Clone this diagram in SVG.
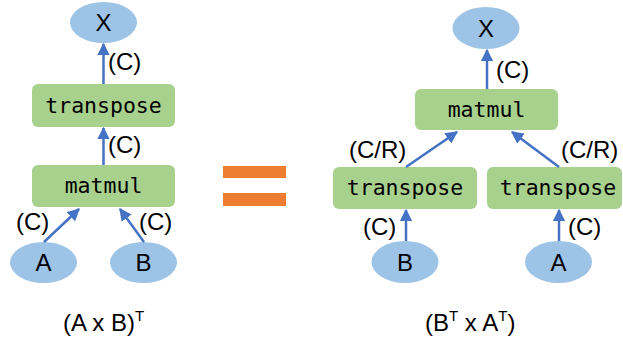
<svg xmlns="http://www.w3.org/2000/svg" width="623" height="339" viewBox="0 0 623 339">
  <style>
    .op { fill: #A9D18E; }
    .val { fill: #9DC3E6; }
    .edge { stroke: #4472C4; stroke-width: 2.5; fill: none; marker-end: url(#arrow); }
    .mono { font-family: "DejaVu Sans Mono", "Liberation Mono", monospace; font-size: 21.5px; fill: #000; text-anchor: middle; }
    .sans { font-family: "Liberation Sans", Arial, sans-serif; fill: #000; }
    .big { font-size: 24px; text-anchor: middle; }
    .lbl { font-size: 24px; }
  </style>
  <defs>
    <marker id="arrow" viewBox="0 0 10 10" refX="9" refY="5" markerWidth="5" markerHeight="5" markerUnits="strokeWidth" orient="auto">
      <path d="M0,0 L10,5 L0,10 z" fill="#4472C4"/>
    </marker>
  </defs>
  <rect width="623" height="339" fill="#fff"/>

  <!-- left graph: (A x B)^T -->
  <g id="L_X"><ellipse class="val" cx="103.5" cy="22.5" rx="33.5" ry="20.5"/><text class="sans big" x="103.5" y="31">X</text></g>
  <g id="L_transpose"><rect class="op" x="32" y="84" width="143" height="43" rx="6"/><text class="mono" x="103.5" y="113">transpose</text></g>
  <g id="L_matmul"><rect class="op" x="32" y="165" width="143" height="42" rx="6"/><text class="mono" x="103.5" y="193">matmul</text></g>
  <g id="L_A"><ellipse class="val" cx="43.5" cy="262.5" rx="33.5" ry="20.5"/><text class="sans big" x="43.5" y="271">A</text></g>
  <g id="L_B"><ellipse class="val" cx="143.5" cy="262.5" rx="33.5" ry="20.5"/><text class="sans big" x="143.5" y="271">B</text></g>

  <!-- right graph: B^T x A^T -->
  <g id="R_X"><ellipse class="val" cx="486" cy="28" rx="33.5" ry="21"/><text class="sans big" x="486" y="36.5">X</text></g>
  <g id="R_matmul"><rect class="op" x="415" y="89" width="143" height="41" rx="6"/><text class="mono" x="486.5" y="117">matmul</text></g>
  <g id="R_transposeB"><rect class="op" x="333" y="167" width="144" height="42" rx="6"/><text class="mono" x="405" y="195">transpose</text></g>
  <g id="R_transposeA"><rect class="op" x="487" y="167" width="135" height="42" rx="6"/><text class="mono" x="558" y="195">transpose</text></g>
  <g id="R_B"><ellipse class="val" cx="405" cy="262" rx="33.5" ry="21"/><text class="sans big" x="405" y="270.5">B</text></g>
  <g id="R_A"><ellipse class="val" cx="558.5" cy="262" rx="33.5" ry="21"/><text class="sans big" x="558.5" y="270.5">A</text></g>

  <g id="connectors">
    <line class="edge" x1="103.5" y1="84" x2="103.5" y2="44"/>
    <line class="edge" x1="103.5" y1="165" x2="103.5" y2="128"/>
    <line class="edge" x1="44" y1="242" x2="79" y2="209"/>
    <line class="edge" x1="144" y1="242" x2="120" y2="209"/>
    <line class="edge" x1="487" y1="89" x2="487" y2="50"/>
    <line class="edge" x1="406" y1="167" x2="457" y2="132"/>
    <line class="edge" x1="559" y1="167" x2="512" y2="132"/>
    <line class="edge" x1="406" y1="241" x2="406" y2="210"/>
    <line class="edge" x1="559" y1="241" x2="559" y2="210"/>
  </g>

  <g id="labels" class="sans lbl">
    <text x="108" y="70">(C)</text>
    <text x="108" y="153">(C)</text>
    <text x="16" y="230">(C)</text>
    <text x="139" y="230">(C)</text>
    <text x="496" y="78">(C)</text>
    <text x="349" y="158">(C/R)</text>
    <text x="561" y="158">(C/R)</text>
    <text x="363" y="235">(C)</text>
    <text x="568" y="235">(C)</text>
  </g>

  <!-- equals sign -->
  <g id="equals" fill="#ED7D31">
    <rect x="223" y="166" width="63" height="12"/>
    <rect x="223" y="193" width="63" height="13"/>
  </g>

  <g id="captions" class="sans" font-size="24">
    <text x="63" y="331">(A x B)<tspan font-size="15" dy="-10">T</tspan></text>
    <text x="425" y="331">(B<tspan font-size="15" dy="-10">T</tspan><tspan dy="10"> x A</tspan><tspan font-size="15" dy="-10">T</tspan><tspan dy="10">)</tspan></text>
  </g>
</svg>
